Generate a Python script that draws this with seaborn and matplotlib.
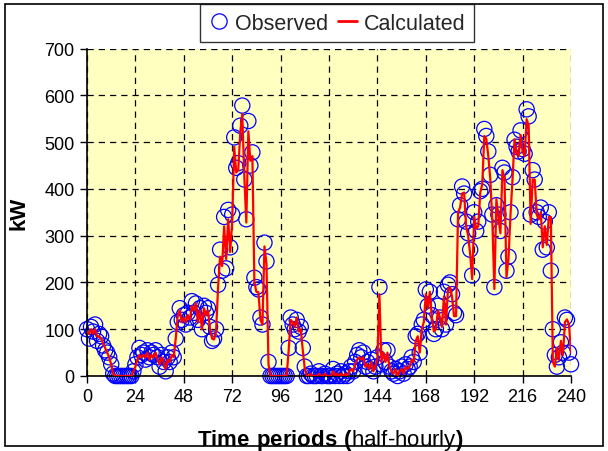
import matplotlib
matplotlib.use("Agg")
import matplotlib.pyplot as plt
import pandas as pd
import seaborn as sns
from matplotlib.lines import Line2D
from matplotlib.patches import Rectangle

# ---------------- data ----------------
periods = list(range(241))

observed = [
    100, 80, 105, 95, 110, 75, 90, 85, 65, 55, 50, 40, 25,
    5, 0, 0, 0, 0, 0, 0, 0, 0, 0,
    10, 25, 40, 60, 45, 50, 35, 55, 40, 50, 45, 55, 40, 20, 45, 30, 10, 40, 30, 50, 40, 80, 115,
    145, 120, 130, 110, 135, 125, 160, 135, 155, 120, 145, 100, 150, 135, 145, 105, 75, 80, 100,
    195, 270, 225, 340, 230, 355, 275, 345, 510, 445, 455, 535, 578, 420, 335, 545, 450, 478,
    210, 190, 185, 125, 110, 285, 245, 30, 0,
    0, 0, 0, 0, 0, 0, 0, 0,
    60, 125, 110, 100, 120, 95, 105, 60, 20,
    0, 0, 5, 0, 0, 0, 10, 0, 0, 5, 0, 0, 0, 15, 0, 5, 0, 10, 0, 5, 0, 10, 20, 10,
    30, 45, 55, 40, 50, 20, 30, 15, 35, 10, 20, 40, 190, 25, 55, 30, 55, 20, 10, 5,
    15, 0, 10, 20, 5, 25, 15,
    20, 40, 30, 85, 90, 50, 110, 120, 185, 150,
    180, 130, 90, 100, 150, 125, 100, 180, 110, 195,
    200, 175, 135, 130, 335, 365, 405, 390, 330, 305,
    270, 215, 350, 310, 330, 395, 400, 528, 513, 480,
    430, 345, 190, 365, 345, 310, 445, 435, 225, 255,
    350, 425, 505, 490, 480, 525, 485, 475, 570, 555,
    345, 440, 420, 350, 340, 360, 270, 330, 275, 350,
    225, 100, 45, 20, 40, 72, 50, 125, 120, 50, 25,
]

calculated = [
    95, 90, 100, 90, 100, 85, 85, 80, 70, 60, 50, 40, 25,
    5, 0, 0, 0, 0, 0, 0, 0, 0, 0,
    10, 20, 35, 45, 40, 45, 40, 50, 35, 45, 40, 50, 35, 25, 40, 30, 15, 35, 30, 45, 40, 80, 130,
    140, 115, 125, 115, 130, 120, 150, 140, 155, 115, 140, 100, 145, 130, 140, 100, 80, 78, 95,
    190, 255, 235, 320, 250, 335, 265, 330, 490, 435, 440, 520, 560, 427, 328, 523, 460, 470,
    200, 180, 179, 120, 110, 277, 240, 25, 0,
    0, 0, 0, 0, 0, 0, 0, 0,
    55, 120, 115, 105, 125, 95, 100, 55, 15,
    0, 0, 5, 0, 0, 0, 5, 0, 0, 5, 0, 0, 0, 10, 0, 5, 0, 5, 0, 5, 0, 10, 15, 10,
    25, 35, 40, 35, 40, 20, 25, 15, 30, 10, 20, 35, 175, 30, 50, 30, 50, 20, 10, 5,
    15, 0, 10, 15, 5, 20, 15,
    20, 35, 30, 75, 85, 50, 100, 115, 175, 145,
    180, 125, 95, 100, 140, 125, 105, 170, 110, 185,
    190, 170, 128, 128, 350, 360, 390, 392, 320, 300,
    260, 207, 340, 315, 320, 392, 410, 513, 507, 470,
    420, 330, 186, 378, 340, 305, 440, 425, 211, 250,
    345, 420, 506, 478, 470, 515, 480, 470, 549, 535,
    325, 420, 420, 345, 335, 350, 275, 320, 280, 340,
    340, 30, 20, 60, 35, 75, 45, 115, 121, 110, 50,
]

x_ticks = [0, 24, 48, 72, 96, 120, 144, 168, 192, 216, 240]
y_ticks = [0, 100, 200, 300, 400, 500, 600, 700]

series_labels = ["Observed", "Calculated"]

# ---------------- style ----------------
sns.set_theme(style="white")
plt.rcParams["font.family"] = ["Liberation Sans", "DejaVu Sans"]
plt.rcParams["mathtext.fontset"] = "custom"
plt.rcParams["mathtext.rm"] = "Liberation Sans"
plt.rcParams["mathtext.bf"] = "Liberation Sans:bold"

fig = plt.figure(figsize=(6.08, 4.52), dpi=100)
fig.patch.set_facecolor("white")
ax = fig.add_axes([87 / 608, 1 - 377 / 452, (571 - 87) / 608, (377 - 49.5) / 452])
ax.set_facecolor("#FFFFC0")

df = pd.DataFrame({"t": periods, "obs": observed, "calc": calculated})

sns.lineplot(data=df, x="t", y="calc", color="red", linewidth=1.6, ax=ax, zorder=3)
sns.scatterplot(data=df, x="t", y="obs", marker="o", s=120, ax=ax, zorder=2,
                facecolors="none", edgecolor="blue", linewidth=0.9)
for coll in ax.collections:
    coll.set_facecolor("none")
    coll.set_edgecolor("blue")
    coll.set_clip_on(False)

ax.set_xlim(0, 240)
ax.set_ylim(0, 700)
ax.set_xticks(x_ticks)
ax.set_yticks(y_ticks)
ax.grid(True, color="black", linestyle=(0, (5, 4)), linewidth=0.9)
ax.set_axisbelow(True)

for side in ["top", "right"]:
    ax.spines[side].set_visible(False)
for side in ["left", "bottom"]:
    ax.spines[side].set_color("black")
    ax.spines[side].set_linewidth(1.2)

ax.tick_params(axis="both", which="both", bottom=True, left=True, direction="out",
               length=5, width=1, color="black", labelsize=13, labelcolor="black", pad=4)

ax.set_xlabel(r"$\mathbf{Time\ periods\ (}$half-hourly$\mathbf{)}$", fontsize=16, color="black")
ax.set_ylabel("kW", fontsize=16, fontweight="bold", color="black")
ax.xaxis.set_label_coords(0.502, -0.155)
ax.yaxis.set_label_coords(-0.118, 0.5)

handles = [
    Line2D([], [], marker="o", linestyle="none", markerfacecolor="none",
           markeredgecolor="blue", markersize=11, markeredgewidth=0.9),
    Line2D([], [], color="red", linewidth=2),
]
leg = fig.legend(handles, series_labels, loc="upper center",
                 bbox_to_anchor=(337 / 608, 1 - 5 / 452), ncol=2, frameon=True,
                 fancybox=False, edgecolor="black", fontsize=15.5, handlelength=0.9,
                 columnspacing=0.45, handletextpad=0.3, borderpad=0.4,
                 borderaxespad=0.0)
leg.get_frame().set_linewidth(1.0)

fig.add_artist(Rectangle((5 / 608, 5 / 452), 1 - 10 / 608, 1 - 10 / 452,
                         transform=fig.transFigure, fill=False,
                         edgecolor="black", linewidth=1.2))

fig.savefig("out.png", dpi=100, facecolor="white")
